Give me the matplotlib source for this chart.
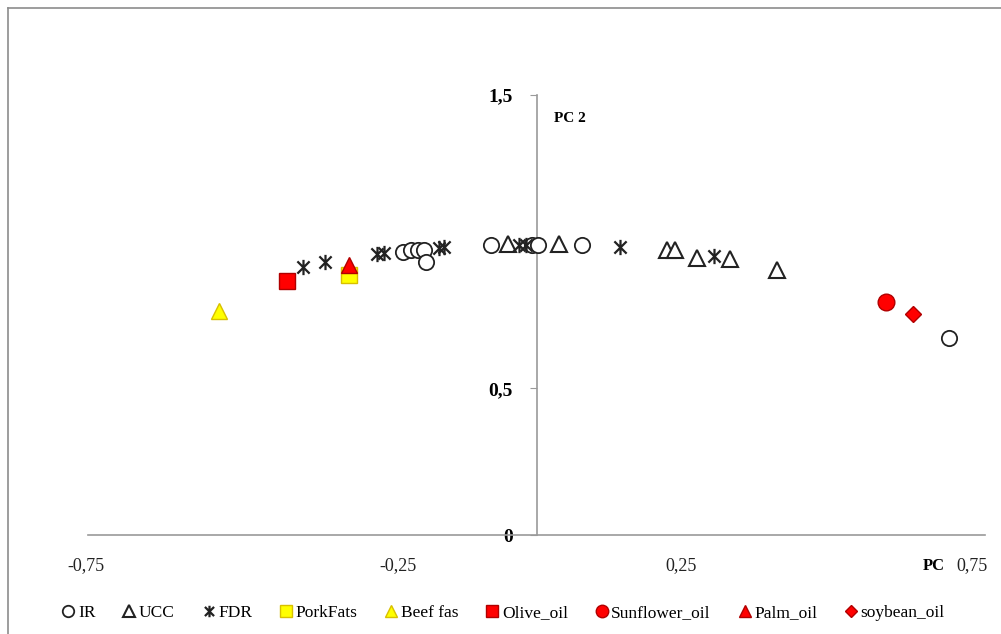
import matplotlib
matplotlib.use("Agg")
import matplotlib.pyplot as plt
from matplotlib.path import Path
from matplotlib.lines import Line2D
from matplotlib.transforms import ScaledTranslation

plt.rcParams['font.family'] = ['Liberation Serif', 'DejaVu Serif']

# Loadings on PC1 / PC2
ir_x = [-0.224, -0.210, -0.198, -0.188, -0.185, -0.076, -0.008, 0.003, 0.076, 0.689]
ir_y = [0.966, 0.973, 0.973, 0.970, 0.929, 0.990, 0.990, 0.990, 0.990, 0.673]

ucc_x = [-0.047, 0.037, 0.218, 0.232, 0.269, 0.324, 0.402]
ucc_y = [0.993, 0.993, 0.973, 0.970, 0.946, 0.942, 0.905]

fdr_x = [-0.390, -0.353, -0.267, -0.255, -0.163, -0.155, -0.030, -0.018, 0.139, 0.296]
fdr_y = [0.915, 0.929, 0.959, 0.962, 0.980, 0.983, 0.990, 0.990, 0.983, 0.950]

pork_x, pork_y = [-0.313], [0.888]
beef_x, beef_y = [-0.531], [0.762]
olive_x, olive_y = [-0.417], [0.867]
sunflower_x, sunflower_y = [0.585], [0.796]
palm_x, palm_y = [-0.313], [0.920]
soybean_x, soybean_y = [0.629], [0.752]

x_ticks = [-0.75, -0.25, 0.25, 0.75]
x_tick_labels = ["-0,75", "-0,25", "0,25", "0,75"]
y_ticks = [0, 0.5, 1.5]
y_tick_labels = ["0", "0,5", "1,5"]

# six-armed star: vertical bar plus an X
star = Path([(0, -1), (0, 1), (-0.8, -0.8), (0.8, 0.8), (-0.8, 0.8), (0.8, -0.8)],
            [Path.MOVETO, Path.LINETO, Path.MOVETO, Path.LINETO, Path.MOVETO, Path.LINETO])

fig = plt.figure(figsize=(10.01, 6.34), dpi=100)
ax = fig.add_axes([88 / 1001, 99 / 634, (985 - 88) / 1001, 440 / 634])

RED, RED_EDGE = "#FF0000", "#B00000"
YEL, YEL_EDGE = "#FFFF00", "#D8C000"

ax.plot(ir_x, ir_y, 'o', ms=11, mfc='white', mec='#222222', mew=1.3, label='IR', zorder=3)
ax.plot(ucc_x, ucc_y, '^', ms=11, mfc='white', mec='#222222', mew=1.5, label='UCC', zorder=3)
ax.plot(fdr_x, fdr_y, ls='none', marker=star, ms=11, mec='#222222', mew=1.6, label='FDR', zorder=3)
ax.plot(pork_x, pork_y, 's', ms=11, mfc=YEL, mec=YEL_EDGE, mew=1, label='PorkFats', zorder=3)
ax.plot(beef_x, beef_y, '^', ms=12, mfc=YEL, mec=YEL_EDGE, mew=1, label='Beef fas', zorder=3)
ax.plot(olive_x, olive_y, 's', ms=12, mfc=RED, mec=RED_EDGE, mew=1, label='Olive_oil', zorder=3)
ax.plot(sunflower_x, sunflower_y, 'o', ms=12, mfc=RED, mec=RED_EDGE, mew=1, label='Sunflower_oil', zorder=3)
ax.plot(palm_x, palm_y, '^', ms=12, mfc=RED, mec=RED_EDGE, mew=1, label='Palm_oil', zorder=4)
ax.plot(soybean_x, soybean_y, 'D', ms=8, mfc=RED, mec=RED_EDGE, mew=1, label='soybean_oil', zorder=3)

ax.set_xlim(-0.75, 0.75)
ax.set_ylim(0, 1.5)

for s in ['top', 'right']:
    ax.spines[s].set_visible(False)
ax.spines['left'].set_position(('data', 0))
ax.spines['bottom'].set_position(('data', 0))
for s in ['left', 'bottom']:
    ax.spines[s].set_color('#9a9a9a')
    ax.spines[s].set_linewidth(1.2)

ax.set_xticks(x_ticks)
ax.set_xticklabels(x_tick_labels, fontsize=13)
ax.tick_params(axis='x', length=0, pad=16, colors='#222222')
# nudge the category labels the way the original layout spaces them
for lbl, dx in zip(ax.get_xticklabels(), [-2, 11, -5, -13]):
    lbl.set_transform(lbl.get_transform() + ScaledTranslation(dx / 100, 0, fig.dpi_scale_trans))
ax.set_yticks(y_ticks)
ax.set_yticklabels(y_tick_labels, fontsize=14, fontweight='bold')
ax.tick_params(axis='y', length=5, color='#9a9a9a', direction='out', pad=12)
ax.patch.set_alpha(0)

ax.text(0.03, 1.42, "PC 2", fontsize=11, fontweight='bold', ha='left', va='center')
ax.text(0.665, -0.105, "PC", fontsize=12, fontweight='bold', ha='center', va='center')

handles, labels = ax.get_legend_handles_labels()
leg = fig.legend(handles, labels, loc='center', bbox_to_anchor=(0.503, 21 / 634), ncol=9,
                 frameon=False, fontsize=12.5, markerscale=0.75, handlelength=0.7,
                 handletextpad=0.2, columnspacing=1.6)

# outer chart frame
fig.add_artist(Line2D([8 / 1001, 8 / 1001], [0, 1 - 8 / 634], transform=fig.transFigure,
                      color='#8c8c8c', lw=1.2))
fig.add_artist(Line2D([8 / 1001, 1], [1 - 8 / 634, 1 - 8 / 634], transform=fig.transFigure,
                      color='#8c8c8c', lw=1.2))

fig.savefig("out.png", dpi=100)
